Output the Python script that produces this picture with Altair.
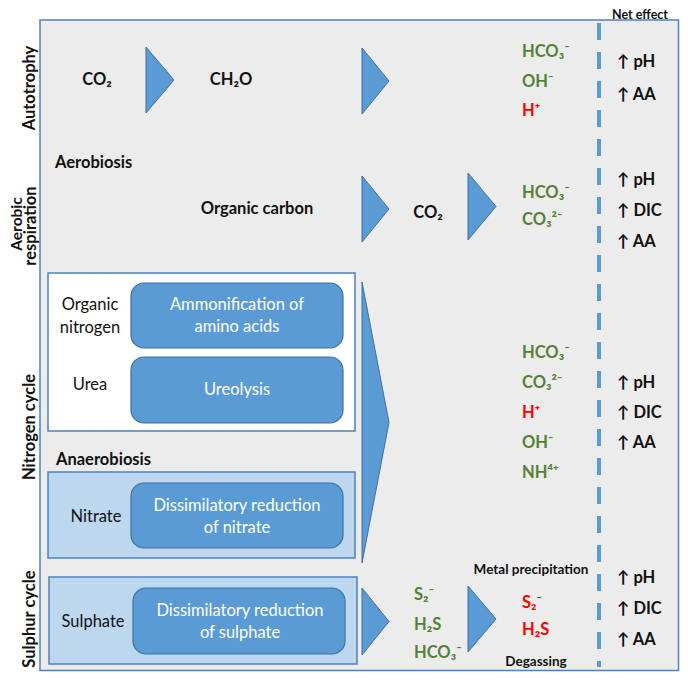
import altair as alt
import pandas as pd

FONT = "Lato"
BLUE = "#5b9bd5"
DARK = "#41719c"
EDGE = "#4f81bd"
GREEN = "#548235"
RED = "#ff0000"
BLACK = "#111111"

# --- boxes (x0, x1, y0, y1, fill) ---
box_x0 = [40, 48, 48, 49]
box_x1 = [678.5, 355, 355, 357]
box_y0 = [20, 273, 472, 577]
box_y1 = [670.5, 431, 558, 664]
box_fill = ["#ececec", "#ffffff", "#bdd7ee", "#bdd7ee"]

# --- process boxes (rounded) ---
proc_x0 = [131, 131, 131, 133]
proc_x1 = [343, 343, 343, 345]
proc_y0 = [283, 357, 483, 588]
proc_y1 = [348, 423, 548, 654]

# --- arrow triangles: left x, apex x, top y, bottom y ---
tri_left = [146, 362, 362, 468, 362, 362, 468]
tri_apex = [174, 389, 389, 496, 389, 389, 496]
tri_top = [47, 48, 176, 173, 282, 588, 586]
tri_bot = [113, 114, 242, 240, 563, 655, 652]

# --- texts ---
t_x, t_y, t_txt, t_col, t_size, t_w, t_align, t_ang, t_base = [], [], [], [], [], [], [], [], []
def T(x, y, s, col=BLACK, size=16.5, w="bold", align="center", ang=0, base="middle"):
    t_x.append(x); t_y.append(y); t_txt.append(s); t_col.append(col)
    t_size.append(size); t_w.append(w); t_align.append(align); t_ang.append(ang)
    t_base.append(base)

# headers / side labels
T(640, 18.5, "Net effect", size=12.5, base="alphabetic")
T(30, 88, "Autotrophy", ang=270)
T(22, 224, "Aerobic", size=15.5, ang=270, base="alphabetic")
T(35.5, 226, "respiration", ang=270, base="alphabetic")
T(30, 427, "Nitrogen cycle", ang=270)
T(30, 619, "Sulphur cycle", ang=270)

# autotrophy row
T(97, 80, "CO₂")
T(231, 80, "CH₂O")
T(522, 52, "HCO₃⁻", GREEN, align="left")
T(522, 82, "OH⁻", GREEN, align="left")
T(522, 111, "H⁺", RED, align="left")
T(617, 62, "↑ pH", align="left")
T(617, 95, "↑ AA", align="left")

# aerobic respiration
T(55, 163, "Aerobiosis", align="left")
T(257, 209, "Organic carbon")
T(428, 213, "CO₂")
T(522, 193, "HCO₃⁻", GREEN, align="left")
T(522, 220, "CO₃²⁻", GREEN, align="left")
T(617, 180, "↑ pH", align="left")
T(617, 211, "↑ DIC", align="left")
T(617, 242, "↑ AA", align="left")

# nitrogen cycle
T(90, 305, "Organic", w="normal")
T(90, 328, "nitrogen", w="normal")
T(90, 385, "Urea", w="normal")
T(237, 305, "Ammonification of", "#ffffff", w="normal")
T(237, 327, "amino acids", "#ffffff", w="normal")
T(237, 390, "Ureolysis", "#ffffff", w="normal")
T(56, 460, "Anaerobiosis", align="left")
T(96, 517, "Nitrate", w="normal")
T(237, 506, "Dissimilatory reduction", "#ffffff", w="normal")
T(237, 528, "of nitrate", "#ffffff", w="normal")
T(522, 353, "HCO₃⁻", GREEN, align="left")
T(522, 383, "CO₃²⁻", GREEN, align="left")
T(522, 413, "H⁺", RED, align="left")
T(522, 443, "OH⁻", GREEN, align="left")
T(522, 473, "NH⁴⁺", GREEN, align="left")
T(617, 383, "↑ pH", align="left")
T(617, 413, "↑ DIC", align="left")
T(617, 443, "↑ AA", align="left")

# sulphur cycle
T(93, 622, "Sulphate", w="normal")
T(240, 611, "Dissimilatory reduction", "#ffffff", w="normal")
T(240, 633, "of sulphate", "#ffffff", w="normal")
T(414, 595, "S₂⁻", GREEN, align="left")
T(414, 625, "H₂S", GREEN, align="left")
T(414, 653, "HCO₃⁻", GREEN, align="left")
T(531, 570, "Metal precipitation", size=13.5)
T(522, 603, "S₂⁻", RED, align="left")
T(522, 630, "H₂S", RED, align="left")
T(536, 662, "Degassing", size=13.5)
T(617, 578, "↑ pH", align="left")
T(617, 609, "↑ DIC", align="left")
T(617, 640, "↑ AA", align="left")

W, H = 672, 664
xs = alt.Scale(domain=[8, 680], nice=False, zero=False)
ys = alt.Scale(domain=[8, 672], nice=False, zero=False, reverse=True)
X = lambda f: alt.X(f, type="quantitative", scale=xs, axis=None)
Y = lambda f: alt.Y(f, type="quantitative", scale=ys, axis=None)

boxes = pd.DataFrame(dict(x0=box_x0, x1=box_x1, y0=box_y0, y1=box_y1, fill=box_fill))
box_layer = alt.Chart(boxes).mark_rect(stroke=EDGE, strokeWidth=1.5).encode(
    x=X("x0"), x2="x1", y=Y("y0"), y2="y1",
    fill=alt.Fill("fill:N", scale=None))

procs = pd.DataFrame(dict(x0=proc_x0, x1=proc_x1, y0=proc_y0, y1=proc_y1))
proc_layer = alt.Chart(procs).mark_rect(
    fill=BLUE, stroke=DARK, strokeWidth=1.2, cornerRadius=13).encode(
    x=X("x0"), x2="x1", y=Y("y0"), y2="y1")

rows = []
for i in range(len(tri_left)):
    mid = (tri_top[i] + tri_bot[i]) / 2
    rows.append(dict(id=i, x=tri_left[i], ya=tri_top[i], yb=tri_bot[i]))
    rows.append(dict(id=i, x=tri_apex[i], ya=mid, yb=mid))
tris = pd.DataFrame(rows)
tri_layer = alt.Chart(tris).mark_area(
    color=BLUE, stroke=DARK, strokeWidth=1, opacity=1).encode(
    x=X("x"), y=Y("ya"), y2="yb", detail="id:N")

dash = pd.DataFrame(dict(x=[599], y0=[23], y1=[667]))
dash_layer = alt.Chart(dash).mark_rule(
    color=BLUE, strokeWidth=4, strokeDash=[17, 12]).encode(
    x=X("x"), y=Y("y0"), y2="y1")

texts = pd.DataFrame(dict(x=t_x, y=t_y, t=t_txt, c=t_col, s=t_size,
                          w=t_w, a=t_align, ang=t_ang, b=t_base))
text_layers = []
for (a, ang, w, b), g in texts.groupby(["a", "ang", "w", "b"]):
    text_layers.append(
        alt.Chart(g).mark_text(font=FONT, baseline=b, align=a,
                               angle=int(ang), fontWeight=w).encode(
            x=X("x"), y=Y("y"), text="t:N",
            color=alt.Color("c:N", scale=None),
            size=alt.Size("s:Q", scale=None)))

chart = alt.layer(box_layer, proc_layer, tri_layer, dash_layer, *text_layers).properties(
    width=W, height=H, padding=0, autosize=alt.AutoSizeParams(type="none")
).configure_view(stroke=None)

chart.save("out.html", embed_options={"renderer": "svg", "actions": False})
